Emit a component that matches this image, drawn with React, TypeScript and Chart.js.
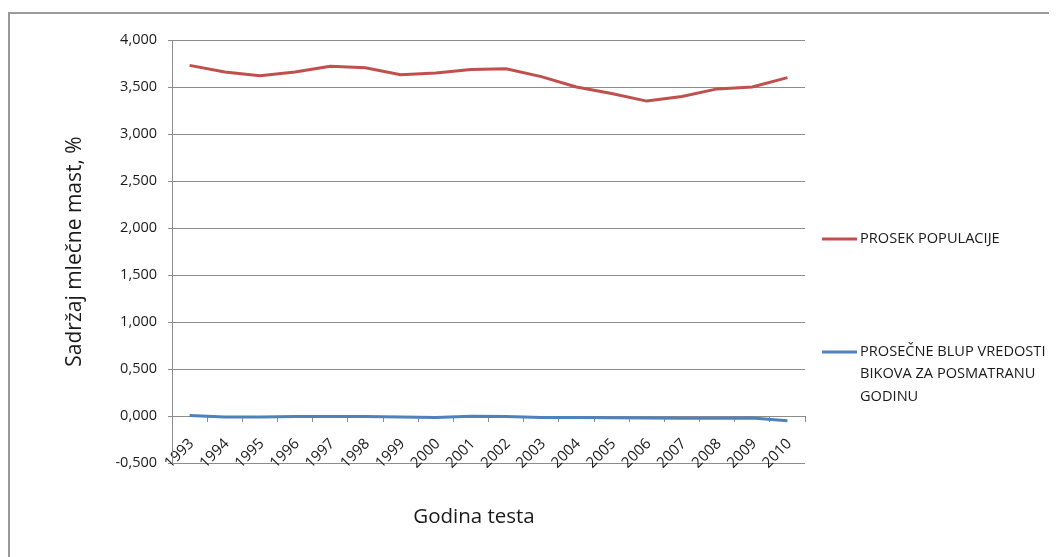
import React, { useEffect, useRef } from "react";
import { Chart, registerables } from "chart.js";

Chart.register(...registerables);

const years = ["1993","1994","1995","1996","1997","1998","1999","2000","2001","2002","2003","2004","2005","2006","2007","2008","2009","2010"];
const prosekPopulacije = [3.73, 3.66, 3.62, 3.66, 3.72, 3.705, 3.63, 3.65, 3.685, 3.695, 3.61, 3.50, 3.43, 3.35, 3.40, 3.48, 3.50, 3.60];
const blupVrednosti = [0.005, -0.01, -0.01, -0.005, -0.005, -0.005, -0.01, -0.015, -0.003, -0.005, -0.015, -0.015, -0.018, -0.02, -0.025, -0.025, -0.022, -0.05];
const seriesLabels = [["PROSEK POPULACIJE"], ["PROSEČNE BLUP VREDOSTI", "BIKOVA ZA POSMATRANU", "GODINU"]];
const yTitle = "Sadržaj mlečne mast, %";
const xTitle = "Godina testa";

const FONT = "'Open Sans', 'Noto Sans', sans-serif";
const GRID = "#8c8c8c";
const TEXT = "#1a1a1a";

const extrasPlugin = {
  id: "extras",
  afterDraw(chart: any) {
    const ctx = chart.ctx;
    const area = chart.chartArea;
    ctx.save();
    // x axis title
    ctx.fillStyle = TEXT;
    ctx.font = `20.5px ${FONT}`;
    ctx.textAlign = "center";
    ctx.textBaseline = "middle";
    ctx.fillText(xTitle, 466, 509);
    // legend
    const legendY = [231, 344];
    chart.data.datasets.forEach((ds: any, i: number) => {
      const y = legendY[i];
      ctx.strokeStyle = ds.borderColor;
      ctx.lineWidth = 3;
      ctx.beginPath();
      ctx.moveTo(area.right + 17, y);
      ctx.lineTo(area.right + 52, y);
      ctx.stroke();
      ctx.fillStyle = TEXT;
      ctx.font = `14.6px ${FONT}`;
      ctx.textAlign = "left";
      ctx.textBaseline = "middle";
      const lines: string[] = ds.legendLines;
      lines.forEach((t, j) => ctx.fillText(t, area.right + 55, y + j * 22.3));
    });
    ctx.restore();
  },
};

export default function App() {
  const ref = useRef<HTMLCanvasElement | null>(null);
  useEffect(() => {
    if (!ref.current) return;
    const chart = new Chart(ref.current, {
      type: "line",
      data: {
        labels: years,
        datasets: [
          {
            label: seriesLabels[0].join(" "),
            legendLines: seriesLabels[0],
            data: prosekPopulacije,
            borderColor: "#C0504D",
            backgroundColor: "#C0504D",
            borderWidth: 3,
            pointRadius: 0,
            tension: 0,
          } as any,
          {
            label: seriesLabels[1].join(" "),
            legendLines: seriesLabels[1],
            data: blupVrednosti,
            borderColor: "#4F81BD",
            backgroundColor: "#4F81BD",
            borderWidth: 3,
            pointRadius: 0,
            tension: 0,
          } as any,
        ],
      },
      options: {
        animation: false,
        responsive: true,
        maintainAspectRatio: false,
        layout: { padding: { left: 0, top: 32, right: 252, bottom: 94 } },
        plugins: {
          legend: { display: false },
          tooltip: { enabled: false },
        },
        scales: {
          x: {
            type: "category",
            position: { y: 0 } as any,
            offset: true,
            grid: { drawOnChartArea: false, drawTicks: true, tickLength: 5, color: GRID, offset: true },
            border: { display: true, color: GRID, width: 1 },
            ticks: {
              minRotation: 45,
              maxRotation: 45,
              autoSkip: false,
              color: TEXT,
              padding: 14,
              labelOffset: 2,
              font: { family: FONT, size: 15 },
            },
          },
          y: {
            min: -0.5,
            max: 4,
            afterFit: (scale: any) => {
              scale.width = 164;
            },
            ticks: {
              stepSize: 0.5,
              color: TEXT,
              padding: 11,
              font: { family: FONT, size: 14.5 },
              callback: (v: any) => Number(v).toFixed(3).replace(".", ","),
            },
            grid: { color: GRID, tickLength: 4, lineWidth: 1 },
            border: { display: true, color: GRID, width: 1 },
            title: {
              display: true,
              text: yTitle,
              color: TEXT,
              font: { family: FONT, size: 21 },
              padding: { top: 54, bottom: 0 },
            },
          },
        },
      },
      plugins: [extrasPlugin],
    });
    return () => chart.destroy();
  }, []);

  return (
    <div style={{ position: "relative", width: 1049, height: 549, overflow: "hidden" }}>
      <div
        style={{
          position: "absolute",
          left: 0,
          top: 4,
          width: 1200,
          height: 700,
          borderTop: "2px solid #9a9a9a",
          borderLeft: "2px solid #9a9a9a",
        }}
      />
      <div style={{ position: "absolute", left: 0, top: 0, width: 1049, height: 549 }}>
        <canvas ref={ref} />
      </div>
    </div>
  );
}
